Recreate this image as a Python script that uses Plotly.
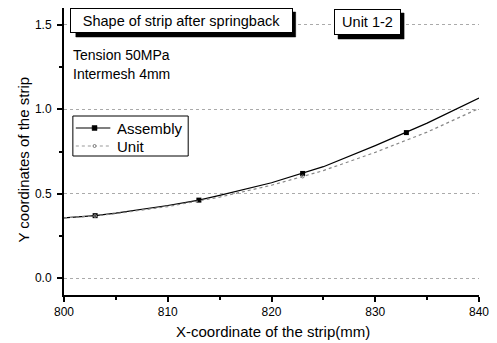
import plotly.graph_objects as go

# Data
x_assembly = [800, 803, 805, 810, 813, 815, 820, 823, 825, 830, 833, 835, 840]
y_assembly = [0.357, 0.370, 0.385, 0.430, 0.462, 0.490, 0.565, 0.620, 0.660, 0.785, 0.862, 0.918, 1.067]
x_assembly_markers = [803, 813, 823, 833]
y_assembly_markers = [0.370, 0.462, 0.620, 0.862]

x_unit = [800, 803, 805, 810, 815, 820, 823, 825, 830, 835, 840]
y_unit = [0.357, 0.368, 0.382, 0.424, 0.480, 0.550, 0.602, 0.637, 0.745, 0.865, 1.005]
x_unit_markers = [803, 823]
y_unit_markers = [0.368, 0.602]

series_names = ["Assembly", "Unit"]

x_ticks = [800, 810, 820, 830, 840]
y_ticks = [0.0, 0.5, 1.0, 1.5]
y_tick_labels = ["0.0", "0.5", "1.0", "1.5"]

FONT = "Liberation Sans, Arial, sans-serif"
W, H = 497, 343
L, R, T, B = 64, 12, 8, 48
PW, PH = W - L - R, H - T - B

def px(xp):
    return (xp - L) / PW

def py(yp):
    return (H - B - yp) / PH

A_LINE = dict(color="black", width=1.2)
A_MARK = dict(symbol="square", size=5, color="black")
U_LINE = dict(color="#888888", width=1.2, dash="dot")
U_MARK = dict(symbol="circle-open", size=3, color="#777777")

fig = go.Figure()

# decorations drawn on an invisible overlay axis measured in page pixels
def deco_rect(x0, y0, x1, y1, fill=None, line_color="black", width=1):
    xs = [x0, x1, x1, x0, x0]
    ys = [y0, y0, y1, y1, y0]
    if fill:
        fig.add_trace(go.Scatter(x=xs, y=ys, xaxis="x2", yaxis="y2", mode="lines", fill="toself",
                                 fillcolor=fill, line=dict(color=fill, width=0.5),
                                 hoverinfo="skip", showlegend=False))
    else:
        fig.add_trace(go.Scatter(x=xs, y=ys, xaxis="x2", yaxis="y2", mode="lines",
                                 line=dict(color=line_color, width=width),
                                 hoverinfo="skip", showlegend=False))

deco_rect(76, 12, 299, 37, fill="black")   # title shadow
deco_rect(342, 13, 409, 39, fill="black")  # Unit 1-2 shadow
deco_rect(73, 116, 190, 156)               # legend frame

fig.add_trace(go.Scatter(x=x_assembly, y=y_assembly, mode="lines", line=A_LINE, showlegend=False))
fig.add_trace(go.Scatter(x=x_assembly_markers, y=y_assembly_markers, mode="markers", marker=A_MARK, showlegend=False))
fig.add_trace(go.Scatter(x=x_unit, y=y_unit, mode="lines", line=U_LINE, showlegend=False))
fig.add_trace(go.Scatter(x=x_unit_markers, y=y_unit_markers, mode="markers", marker=U_MARK, showlegend=False))

annotations = []

def boxed(text, x0, y0, x1, y1, size):
    cx, cy = (x0 + x1) / 2, (y0 + y1) / 2
    w, h = x1 - x0, y1 - y0
    annotations.append(dict(text=text, xref="paper", yref="paper", x=px(cx), y=py(cy),
                            xanchor="center", yanchor="middle", showarrow=False,
                            width=w - 2, height=h - 2, bgcolor="white",
                            bordercolor="black", borderwidth=1, borderpad=0,
                            font=dict(family=FONT, size=size, color="black")))

boxed("Shape of strip after springback", 72, 8, 295, 33, 14.5)
boxed("Unit 1-2", 338, 9, 405, 35, 14.5)

shapes = []
# legend line samples
shapes.append(dict(type="line", xref="paper", yref="paper", x0=px(76), x1=px(111), y0=py(128), y1=py(128),
                   line=dict(color="black", width=1.2), layer="above"))
shapes.append(dict(type="rect", xref="paper", yref="paper", x0=px(92.5), x1=px(97.5), y0=py(130.5), y1=py(125.5),
                   fillcolor="black", line=dict(color="black", width=0.5), layer="above"))
shapes.append(dict(type="line", xref="paper", yref="paper", x0=px(76), x1=px(111), y0=py(146), y1=py(146),
                   line=dict(color="#999999", width=1.2, dash="dot"), layer="above"))
shapes.append(dict(type="circle", xref="paper", yref="paper", x0=px(93.5), x1=px(96.5), y0=py(147.5), y1=py(144.5),
                   fillcolor="white", line=dict(color="#777777", width=1), layer="above"))

annotations += [
    dict(text="Tension 50MPa", xref="paper", yref="paper", x=px(71), y=py(55),
         xanchor="left", yanchor="middle", showarrow=False, font=dict(family=FONT, size=14, color="black")),
    dict(text="Intermesh 4mm", xref="paper", yref="paper", x=px(71), y=py(74),
         xanchor="left", yanchor="middle", showarrow=False, font=dict(family=FONT, size=14, color="black")),
    dict(text=series_names[0], xref="paper", yref="paper", x=px(116), y=py(128),
         xanchor="left", yanchor="middle", showarrow=False, font=dict(family=FONT, size=15, color="black")),
    dict(text=series_names[1], xref="paper", yref="paper", x=px(116), y=py(146),
         xanchor="left", yanchor="middle", showarrow=False, font=dict(family=FONT, size=15, color="black")),
    dict(text="X-coordinate of the strip(mm)", xref="paper", yref="paper", x=px(276), y=py(331),
         xanchor="center", yanchor="middle", showarrow=False, font=dict(family=FONT, size=15, color="black")),
    dict(text="Y coordinates of the strip", xref="paper", yref="paper", x=px(22), y=py(160),
         xanchor="center", yanchor="middle", showarrow=False, textangle=-90,
         font=dict(family=FONT, size=15, color="black")),
]

fig.update_layout(
    width=W, height=H,
    margin=dict(l=L, r=R, t=T, b=B),
    paper_bgcolor="white", plot_bgcolor="white",
    font=dict(family=FONT, color="black"),
    shapes=shapes, annotations=annotations,
    showlegend=False,
    xaxis=dict(range=[800, 840], tickvals=x_ticks, ticks="outside", ticklen=5, tickwidth=1.5,
               tickcolor="black", showline=True, linecolor="black", linewidth=2, showgrid=False,
               zeroline=False, tickfont=dict(family=FONT, size=12, color="black"),
               minor=dict(dtick=5, ticks="outside", ticklen=3, tickcolor="black", tickwidth=1.5)),
    yaxis=dict(range=[-0.1, 1.6], tickvals=y_ticks, ticktext=y_tick_labels, ticks="outside", ticklen=5,
               tickwidth=1.5, tickcolor="black", showline=True, linecolor="black", linewidth=2,
               showgrid=True, gridcolor="#aaaaaa", griddash="dot", gridwidth=1, zeroline=False,
               tickfont=dict(family=FONT, size=12, color="black"), ticklabelstandoff=3,
               minor=dict(dtick=0.25, tick0=0, ticks="outside", ticklen=3, tickcolor="black", tickwidth=1.5)),
    xaxis2=dict(overlaying="x", range=[L, W - R], visible=False, showgrid=False, zeroline=False),
    yaxis2=dict(overlaying="y", range=[H - B, T], visible=False, showgrid=False, zeroline=False),
)

fig.write_html("out.html")
